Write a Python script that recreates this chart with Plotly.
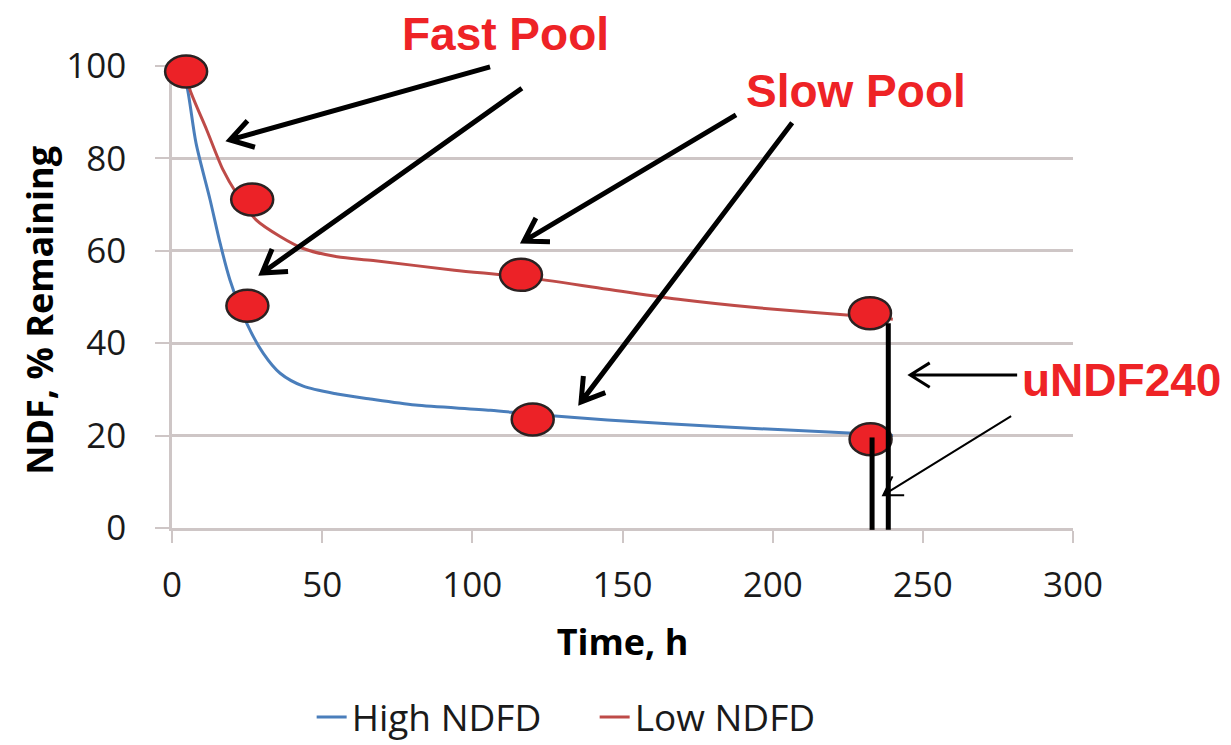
import math
import plotly.graph_objects as go

# ---------------- data ----------------
time_high = [3, 5, 8, 12.7, 16, 19.3, 24.9, 30.4, 36, 43.7, 55, 66, 81, 106, 120, 145, 183, 227, 240]
ndf_high = [99.5, 95.5, 83.3, 71, 61.7, 53.7, 44.3, 37.8, 33.5, 30.7, 29, 27.9, 26.6, 25.5, 24.6, 23.4, 21.9, 20.5, 20.0]

time_low = [4, 6, 11.6, 17, 21.5, 28, 36, 43.7, 55, 67, 94, 117, 145, 170, 196, 232, 240]
ndf_low = [99.5, 94.8, 86.1, 77.5, 72.4, 66.7, 63.1, 60.5, 58.7, 57.9, 55.8, 54.3, 51.7, 49.4, 47.6, 45.7, 45.2]

# highlighted sample points (red ellipses)
pt_time = [4.7, 26.7, 25.1, 116.2, 120.1, 232.4, 232.6]
pt_ndf = [98.8, 71.1, 48.1, 54.8, 23.5, 46.5, 19.2]

# uNDF240 bars (time, top value)
bar_time = [238.5, 233.1]
bar_top = [44.3, 19.6]

# annotation arrows: (start time, start ndf, tip time, tip ndf, width, arm)
arrows = [
    (105.9, 99.8, 19.3, 84.0, 5, 26),
    (116.5, 95.2, 30.0, 55.2, 5, 26),
    (187.8, 89.4, 117.2, 62.1, 5, 26),
    (206.5, 87.7, 136.2, 27.3, 5, 26),
    (281.4, 33.1, 245.8, 33.1, 3, 23),
    (279.4, 24.2, 236.8, 7.1, 2, 21),
]

labels = ["Fast Pool", "Slow Pool", "uNDF240"]
label_time = [111.2, 227.8, 316.3]
label_ndf = [107.0, 94.6, 32.0]

x_ticks = [0, 50, 100, 150, 200, 250, 300]
y_ticks = [0, 20, 40, 60, 80, 100]
X_RANGE = [0, 300]
Y_RANGE = [0, 100]

# ---------------- layout geometry ----------------
# page body has an 8px margin, so the figure is 8px smaller than the window
W, H = 1223, 737
ML, MR, MT, MB = 164, 158, 58, 217
PW = W - ML - MR
PH = H - MT - MB


def xp(x):
    return (x - X_RANGE[0]) / (X_RANGE[1] - X_RANGE[0])


def yp(y):
    return (y - Y_RANGE[0]) / (Y_RANGE[1] - Y_RANGE[0])


BLUE = "#4A7EBB"
RED = "#BE4B48"
TXT_RED = "#EE2326"
GRID = "#CEC6C6"

fig = go.Figure()
fig.add_trace(go.Scatter(x=time_high, y=ndf_high, mode="lines", name="High NDFD",
                         line=dict(color=BLUE, width=3, shape="spline", smoothing=0.8)))
fig.add_trace(go.Scatter(x=time_low, y=ndf_low, mode="lines", name="Low NDFD",
                         line=dict(color=RED, width=3, shape="spline", smoothing=0.8)))

shapes = []
for t, v in zip(pt_time, pt_ndf):
    shapes.append(dict(type="circle", xref="paper", yref="paper",
                       xsizemode="pixel", ysizemode="pixel",
                       xanchor=xp(t), yanchor=yp(v), x0=-21, x1=21, y0=-16, y1=16,
                       fillcolor="#EC2227", line=dict(color="#2a2222", width=2.5),
                       layer="above"))

for t, top in zip(bar_time, bar_top):
    shapes.append(dict(type="line", xref="paper", yref="paper",
                       x0=xp(t), x1=xp(t), y0=yp(top), y1=yp(-0.4),
                       line=dict(color="black", width=5), layer="above"))


def to_px(t, v):
    return xp(t) * PW, (1 - yp(v)) * PH


def to_paper(px, py):
    return px / PW, 1 - py / PH


for (t0, v0, t1, v1, w, arm) in arrows:
    sx, sy = to_px(t0, v0)
    tx, ty = to_px(t1, v1)
    back = math.atan2(sy - ty, sx - tx)
    ang = math.radians(32)
    a1 = (tx + arm * math.cos(back + ang), ty + arm * math.sin(back + ang))
    a2 = (tx + arm * math.cos(back - ang), ty + arm * math.sin(back - ang))
    pts = [to_paper(sx, sy), to_paper(tx, ty), to_paper(*a1), to_paper(tx, ty), to_paper(*a2)]
    path = "M {0[0]:.5f},{0[1]:.5f} L {1[0]:.5f},{1[1]:.5f} M {2[0]:.5f},{2[1]:.5f} L {3[0]:.5f},{3[1]:.5f} L {4[0]:.5f},{4[1]:.5f}".format(*pts)
    shapes.append(dict(type="path", xref="paper", yref="paper", path=path,
                       line=dict(color="black", width=w), layer="above"))

annotations = []
for txt, t, v in zip(labels, label_time, label_ndf):
    annotations.append(dict(text=txt, xref="paper", yref="paper", x=xp(t), y=yp(v),
                            xanchor="center", yanchor="middle", showarrow=False,
                            font=dict(family="Liberation Sans, Arial", size=46,
                                      color=TXT_RED, weight="bold")))

# y-axis title (placed as in the reference, slightly below the axis centre)
annotations.append(dict(text="NDF, % Remaining", xref="paper", yref="paper",
                        x=-132 / PW, y=0.47, xanchor="center", yanchor="middle",
                        textangle=-90, showarrow=False,
                        font=dict(family="Open Sans", size=36, color="black", weight="bold")))

fig.update_layout(
    width=W, height=H, autosize=False,
    margin=dict(l=ML, r=MR, t=MT, b=MB, autoexpand=False),
    paper_bgcolor="white", plot_bgcolor="white",
    shapes=shapes, annotations=annotations,
    font=dict(family="Open Sans", color="#1a1a1a"),
    legend=dict(orientation="h", x=0.155, xanchor="left", y=-0.41, yanchor="middle",
                entrywidth=238,
                font=dict(family="Open Sans", size=37, color="#1a1a1a"),
                bgcolor="rgba(0,0,0,0)"),
    xaxis=dict(range=X_RANGE, tickvals=x_ticks, showgrid=False, zeroline=False,
               automargin=False,
               showline=True, linecolor=GRID, linewidth=2.5,
               ticks="outside", ticklen=12, tickwidth=2, tickcolor=GRID,
               tickfont=dict(family="Open Sans", size=35, color="#1a1a1a"),
               ticklabelstandoff=12,
               title=dict(text="Time, h", standoff=25,
                          font=dict(family="Open Sans", size=36, color="black", weight="bold"))),
    yaxis=dict(range=Y_RANGE, tickvals=y_ticks, showgrid=True, gridcolor=GRID, gridwidth=2.5,
               zeroline=False, showline=True, linecolor=GRID, linewidth=2.5,
               automargin=False,
               ticks="outside", ticklen=14, tickwidth=2, tickcolor=GRID,
               tickfont=dict(family="Open Sans", size=35, color="#1a1a1a"),
               ticklabelstandoff=22),
)

fig.write_html("out.html")
